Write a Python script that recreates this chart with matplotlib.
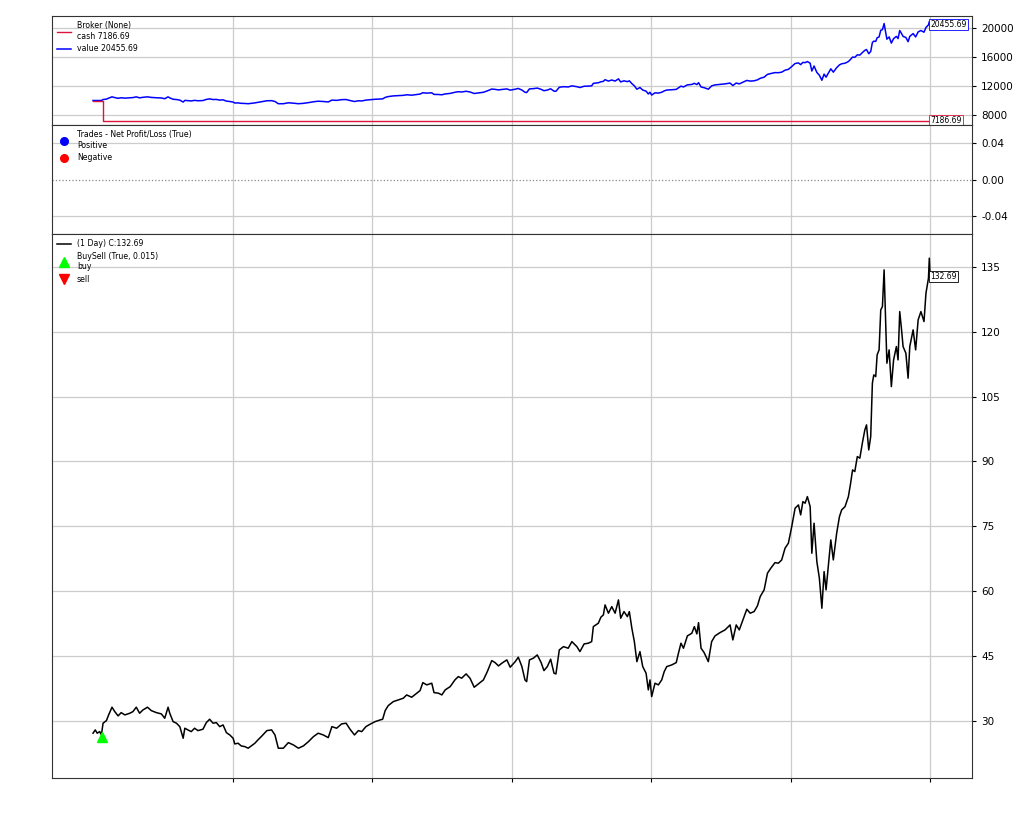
import numpy as np
import matplotlib
matplotlib.use('Agg')
import matplotlib.pyplot as plt

# bar index (trading days) and close prices
bar_idx = [0, 8, 15, 24, 30, 36, 48, 56, 68, 78, 90, 101, 114, 132, 143, 155, 167, 179, 195, 209,
           227, 245, 257, 269, 275, 287, 299, 311, 323, 329, 340, 352, 364, 376, 394, 406, 418, 430, 442, 454,
           466, 478, 490, 502, 508, 520, 531, 544, 556, 567, 580, 591, 603,
           623, 640, 652, 664, 682, 700, 718, 736, 754, 772, 790, 807, 825, 843, 856, 873, 891, 907, 921, 937,
           951, 963, 978, 993, 1011, 1029, 1038, 1047, 1058, 1076, 1094, 1112, 1124, 1142, 1160, 1172, 1182,
           1196, 1214, 1222, 1238,
           1250, 1262, 1280, 1297, 1309, 1321, 1337, 1351, 1366, 1381, 1399, 1413, 1429, 1441, 1453, 1465,
           1483, 1495, 1513, 1524, 1537, 1548, 1554, 1564, 1578, 1592, 1606, 1616, 1628, 1640, 1652, 1659,
           1671, 1686, 1703, 1716, 1734, 1745, 1760, 1775, 1787, 1793, 1811, 1820,
           1829, 1835, 1847, 1859, 1871, 1883, 1891, 1903, 1915, 1922, 1931, 1940, 1949, 1960, 1970, 1982,
           1990, 1996, 2002, 2014, 2026, 2038, 2047, 2056, 2074, 2090, 2098, 2107, 2116, 2130, 2146, 2155,
           2164, 2170, 2179, 2190, 2205, 2217, 2229, 2247, 2265, 2283, 2293, 2305, 2316, 2329, 2343, 2355,
           2369, 2381, 2391, 2405, 2417, 2429, 2444, 2456,
           2468, 2480, 2492, 2504, 2516, 2528, 2536, 2544, 2552, 2560, 2570, 2576, 2584, 2594, 2603, 2612,
           2620, 2627, 2635, 2644, 2653, 2665, 2675, 2683, 2695, 2707, 2715, 2722, 2730, 2739, 2748, 2758,
           2766, 2772, 2780, 2787, 2793, 2798, 2805, 2810, 2817, 2823, 2829, 2835, 2841, 2845, 2853, 2861,
           2869, 2879, 2885, 2891, 2897, 2903, 2913, 2921, 2927, 2939, 2948, 2957, 2967, 2978, 2985, 2994,
           2997, 3000]

close = [27.16, 27.92, 27.16, 27.53, 26.76, 29.47, 30.07, 31.39, 33.17, 32.15, 31.16, 31.92, 31.39, 31.78,
         32.15, 33.17, 31.78, 32.54, 33.17, 32.38, 31.92, 31.62, 30.62, 33.17, 31.78, 29.84, 29.47, 28.68,
         26.00, 28.31, 27.92, 27.53, 28.31, 27.76, 28.08, 29.61, 30.39, 29.47, 29.61, 28.68, 29.07, 27.29,
         26.76, 26.00, 24.68, 24.84, 24.22, 24.06, 23.69, 24.22, 24.84, 25.61, 26.37,
         27.76, 27.92, 26.76, 23.69, 23.69, 24.98, 24.45, 23.69, 24.22, 25.21, 26.37, 27.16, 26.76, 26.14,
         28.68, 28.31, 29.31, 29.47, 28.08, 26.76, 27.76, 27.53, 28.68, 29.24, 29.84, 30.23, 30.39, 32.38,
         33.54, 34.46, 34.86, 35.25, 36.01, 35.48, 36.41, 37.01, 38.86, 38.33, 38.72, 36.55, 36.41,
         36.01, 37.17, 37.93, 39.48, 40.25, 39.88, 40.87, 39.88, 37.79, 38.56, 39.48, 41.40, 43.95, 43.48,
         42.72, 43.34, 44.11, 42.42, 43.71, 44.73, 42.56, 39.48, 39.09, 44.11, 44.50, 45.26, 43.48, 41.63,
         42.56, 44.27, 41.03, 40.87, 46.42, 47.18, 46.81, 48.34, 47.18, 46.03, 47.81, 47.97, 48.34, 51.81,
         52.60, 53.98,
         54.52, 56.83, 54.91, 56.43, 54.91, 57.98, 53.75, 55.28, 54.12, 55.28, 51.44, 48.34, 43.71, 46.03,
         42.56, 41.03, 37.17, 39.48, 35.62, 38.72, 38.33, 39.48, 41.40, 42.56, 42.95, 43.48, 45.66, 47.97,
         46.81, 49.66, 50.28, 51.81, 50.12, 52.73, 46.81, 45.80, 43.71, 48.34, 49.66, 50.42, 51.05, 52.20,
         48.73, 52.20, 51.05, 53.36, 55.83, 54.91, 55.28, 56.60, 58.75, 60.30, 64.16, 65.32, 66.61, 66.47,
         67.23, 69.94, 71.10, 74.94, 79.19, 79.95, 77.64, 80.72, 80.35, 81.87, 79.56, 68.78, 75.72, 66.84,
         63.00, 56.06, 64.53, 60.30, 65.68, 71.86, 67.23, 73.41, 77.25, 78.80, 79.56, 81.87, 84.97, 88.05,
         87.66, 91.13, 90.76, 94.59, 97.30, 98.46, 92.67, 95.75, 108.10, 110.02, 109.63, 114.64, 115.80,
         125.05, 125.82, 134.30, 121.19, 112.73, 115.80, 107.31, 113.49, 116.57, 113.49, 124.66, 120.82,
         116.57, 115.04, 109.26, 116.57, 120.43, 115.80, 122.74, 124.66, 122.35, 128.91, 132.38, 137.01,
         132.69]

# broker
start_cash = 10000.0
end_cash = 7186.69
shares = 100
buy_idx = [32]
buy_mark = [26.3]

idx = np.array(bar_idx)
px = np.array(close)
cash = np.where(idx < buy_idx[0], start_cash, end_cash)
value = np.where(idx < buy_idx[0], start_cash, end_cash + shares * px)

fig = plt.figure(figsize=(10.24, 8.19), dpi=100)
L, W = 52 / 1024, 920 / 1024
ax1 = fig.add_axes([L, 1 - 125 / 819, W, 109 / 819])
ax2 = fig.add_axes([L, 1 - 234 / 819, W, 109 / 819], sharex=ax1)
ax3 = fig.add_axes([L, 1 - 778 / 819, W, 544 / 819], sharex=ax1)

grid_kw = dict(color='#cccccc', lw=0.9)
tag_fs = 5.5
tick_fs = 7.5
leg_kw = dict(loc='upper left', frameon=False, fontsize=5.6, handlelength=1.8,
              handletextpad=0.7, borderaxespad=0.3, labelspacing=0.45)

for ax in (ax1, ax2, ax3):
    ax.yaxis.tick_right()
    ax.grid(True, **grid_kw)
    ax.set_axisbelow(True)
    ax.tick_params(axis='y', labelsize=tick_fs, length=3)
    ax.set_xticks([500, 1000, 1500, 2000, 2500, 3000])
    ax.tick_params(axis='x', labelbottom=False, length=3)
    for s in ax.spines.values():
        s.set_color('#333333')
        s.set_linewidth(0.8)
ax1.tick_params(axis='x', length=0)
ax2.tick_params(axis='x', length=0)
ax1.set_xlim(-147, 3150)

# broker panel
ax1.plot(idx, value, color='blue', lw=1.1, label=f'value {value[-1]:.2f}')
ax1.plot(idx, cash, color='crimson', lw=1.0, drawstyle='steps-post',
         label=f'Broker (None)\ncash {end_cash:.2f}')
ax1.set_ylim(6621, 21655)
ax1.set_yticks([8000, 12000, 16000, 20000])
h, l = ax1.get_legend_handles_labels()
ax1.legend(h[::-1], l[::-1], **leg_kw)
ax1.text(idx[-1], value[-1], f'{value[-1]:.2f}', fontsize=tag_fs, va='center', ha='left',
         bbox=dict(boxstyle='square,pad=0.15', fc='white', ec='blue', lw=0.6))
ax1.text(idx[-1], cash[-1], f'{cash[-1]:.2f}', fontsize=tag_fs, va='center', ha='left',
         bbox=dict(boxstyle='square,pad=0.15', fc='white', ec='crimson', lw=0.6))

# trades panel (no closed trades)
ax2.plot([], [], 'o', color='blue', ms=5.5, label='Trades - Net Profit/Loss (True)\nPositive')
ax2.plot([], [], 'o', color='red', ms=5.5, label='Negative')
ax2.set_ylim(-0.0597, 0.0597)
ax2.set_yticks([-0.04, 0.0, 0.04])
ax2.yaxis.set_major_formatter(matplotlib.ticker.FormatStrFormatter('%.2f'))
zero_tick = ax2.get_yaxis().get_major_ticks()[1]
zero_tick.gridline.set_linestyle(':')
zero_tick.gridline.set_color('#888888')
ax2.legend(**leg_kw)

# price panel
ax3.plot(idx, px, color='black', lw=1.1, label=f'(1 Day) C:{px[-1]:.2f}')
ax3.plot(buy_idx, buy_mark, '^', color='lime', ms=6.5, label='BuySell (True, 0.015)\nbuy')
ax3.plot([], [], 'v', color='red', ms=6.5, label='sell')
ax3.set_ylim(16.8, 142.6)
ax3.set_yticks([30, 45, 60, 75, 90, 105, 120, 135])
ax3.legend(**leg_kw)
ax3.text(idx[-1], px[-1], f'{px[-1]:.2f}', fontsize=tag_fs, va='center', ha='left',
         bbox=dict(boxstyle='square,pad=0.15', fc='white', ec='black', lw=0.6))

fig.savefig('out.png', dpi=100)
